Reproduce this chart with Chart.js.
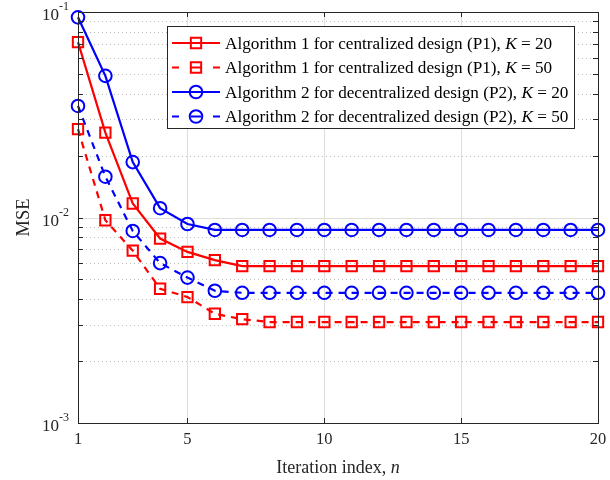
<!DOCTYPE html>
<html>
<head>
<meta charset="utf-8">
<script src="https://cdn.jsdelivr.net/npm/chart.js@4.4.1/dist/chart.umd.min.js"></script>
<style>
  html, body { margin: 0; padding: 0; background: #fff; }
  #wrap { width: 610px; height: 480px; }
</style>
</head>
<body>
<div id="wrap"><canvas id="mseChart" width="610" height="480"></canvas></div>
<script>
// Iteration index n
const iterations = [1, 2, 3, 4, 5, 6, 7, 8, 9, 10, 11, 12, 13, 14, 15, 16, 17, 18, 19, 20];

// MSE values
const alg1K20 = [0.0713, 0.0259, 0.0117, 0.0079, 0.0068, 0.0062, 0.0058, 0.0058, 0.0058, 0.0058,
                 0.0058, 0.0058, 0.0058, 0.0058, 0.0058, 0.0058, 0.0058, 0.0058, 0.0058, 0.0058];
const alg1K50 = [0.0269, 0.0097, 0.0069, 0.0045, 0.0041, 0.0034, 0.0032, 0.0031, 0.0031, 0.0031,
                 0.0031, 0.0031, 0.0031, 0.0031, 0.0031, 0.0031, 0.0031, 0.0031, 0.0031, 0.0031];
const alg2K20 = [0.0942, 0.0489, 0.0186, 0.0111, 0.0093, 0.0087, 0.0087, 0.0087, 0.0087, 0.0087,
                 0.0087, 0.0087, 0.0087, 0.0087, 0.0087, 0.0087, 0.0087, 0.0087, 0.0087, 0.0087];
const alg2K50 = [0.0349, 0.0158, 0.0086, 0.0060, 0.0051, 0.0044, 0.0043, 0.0043, 0.0043, 0.0043,
                 0.0043, 0.0043, 0.0043, 0.0043, 0.0043, 0.0043, 0.0043, 0.0043, 0.0043, 0.0043];

const seriesLabels = [
    'Algorithm 1 for centralized design (P1), ',
    'Algorithm 1 for centralized design (P1), ',
    'Algorithm 2 for decentralized design (P2), ',
    'Algorithm 2 for decentralized design (P2), '
];
const seriesK = ['20', '50', '20', '50'];

// Axis ticks
const xTicks = [1, 5, 10, 15, 20];
const yDecades = [1e-3, 1e-2, 1e-1];
const yDecadeLabels = ['-3', '-2', '-1'];

const SERIF = '"Liberation Serif", "Times New Roman", serif';
const AXIS_COLOR = '#262626';
const RED = '#ff0000';
const BLUE = '#0000ff';
const DASH = [7, 6];

function toPoints(values) {
    return values.map((v, i) => ({ x: iterations[i], y: v }));
}

function makeDataset(label, values, color, style, dashed) {
    return {
        label: label,
        data: toPoints(values),
        borderColor: color,
        backgroundColor: 'rgba(0,0,0,0)',
        borderWidth: 2.2,
        borderDash: dashed ? DASH : [],
        pointStyle: style,
        pointRadius: style === 'rect' ? 7.3 : 6.3,
        pointBorderWidth: 2,
        pointBorderColor: color,
        pointBackgroundColor: 'rgba(0,0,0,0)',
        tension: 0,
        clip: false
    };
}

// Grid drawn MATLAB style: solid major lines, dotted minor lines
const gridPlugin = {
    id: 'matlabGrid',
    beforeDatasetsDraw(chart) {
        const { ctx, chartArea: a, scales } = chart;
        const xs = scales.x, ys = scales.y;
        ctx.save();
        ctx.lineWidth = 1;
        // vertical major grid
        ctx.strokeStyle = '#dedede';
        xTicks.forEach(t => {
            const px = Math.round(xs.getPixelForValue(t)) + 0.5;
            ctx.beginPath(); ctx.moveTo(px, a.top); ctx.lineTo(px, a.bottom); ctx.stroke();
        });
        // horizontal major grid
        yDecades.forEach(d => {
            const py = Math.round(ys.getPixelForValue(d)) + 0.5;
            ctx.beginPath(); ctx.moveTo(a.left, py); ctx.lineTo(a.right, py); ctx.stroke();
        });
        // horizontal minor grid (dotted)
        ctx.strokeStyle = '#bdbdbd';
        ctx.setLineDash([1, 3]);
        yDecades.slice(0, -1).forEach(d => {
            for (let m = 2; m <= 9; m++) {
                const py = Math.round(ys.getPixelForValue(d * m)) + 0.5;
                ctx.beginPath(); ctx.moveTo(a.left, py); ctx.lineTo(a.right, py); ctx.stroke();
            }
        });
        ctx.restore();
    }
};

// Box, inward ticks, tick labels and axis titles
const axesPlugin = {
    id: 'matlabAxes',
    afterDatasetsDraw(chart) {
        const { ctx, chartArea: a, scales } = chart;
        const xs = scales.x, ys = scales.y;
        const tl = 5;
        ctx.save();
        ctx.strokeStyle = AXIS_COLOR;
        ctx.lineWidth = 1;
        ctx.strokeRect(Math.round(a.left) + 0.5, Math.round(a.top) + 0.5,
                       Math.round(a.right - a.left), Math.round(a.bottom - a.top));

        ctx.beginPath();
        xTicks.forEach(t => {
            const px = Math.round(xs.getPixelForValue(t)) + 0.5;
            ctx.moveTo(px, a.bottom); ctx.lineTo(px, a.bottom - tl);
            ctx.moveTo(px, a.top); ctx.lineTo(px, a.top + tl);
        });
        yDecades.forEach((d, i) => {
            const maxM = i === yDecades.length - 1 ? 1 : 9;
            for (let m = 1; m <= maxM; m++) {
                const py = Math.round(ys.getPixelForValue(d * m)) + 0.5;
                ctx.moveTo(a.left, py); ctx.lineTo(a.left + tl, py);
                ctx.moveTo(a.right, py); ctx.lineTo(a.right - tl, py);
            }
        });
        ctx.stroke();

        // x tick labels
        ctx.fillStyle = AXIS_COLOR;
        ctx.font = '16.5px ' + SERIF;
        ctx.textAlign = 'center';
        ctx.textBaseline = 'top';
        xTicks.forEach(t => {
            ctx.fillText(String(t), xs.getPixelForValue(t), a.bottom + 8);
        });

        // y tick labels as 10^k
        yDecades.forEach((d, i) => {
            const py = ys.getPixelForValue(d);
            ctx.font = '12px ' + SERIF;
            ctx.textAlign = 'right';
            ctx.textBaseline = 'alphabetic';
            const supW = ctx.measureText(yDecadeLabels[i]).width;
            const right = a.left - 9;
            ctx.fillText(yDecadeLabels[i], right, py - 2);
            ctx.font = '17px ' + SERIF;
            ctx.fillText('10', right - supW, py + 8);
        });

        // axis titles
        ctx.fillStyle = AXIS_COLOR;
        ctx.textAlign = 'left';
        ctx.textBaseline = 'alphabetic';
        const part1 = 'Iteration index, ';
        ctx.font = '18px ' + SERIF;
        const w1 = ctx.measureText(part1).width;
        ctx.font = 'italic 18px ' + SERIF;
        const w2 = ctx.measureText('n').width;
        const cx = (a.left + a.right) / 2;
        const sx = cx - (w1 + w2) / 2;
        ctx.font = '18px ' + SERIF;
        ctx.fillText(part1, sx, 473);
        ctx.font = 'italic 18px ' + SERIF;
        ctx.fillText('n', sx + w1, 473);

        ctx.save();
        ctx.translate(29, (a.top + a.bottom) / 2);
        ctx.rotate(-Math.PI / 2);
        ctx.font = '18.5px ' + SERIF;
        ctx.textAlign = 'center';
        ctx.fillText('MSE', 0, 0);
        ctx.restore();

        ctx.restore();
    }
};

// Legend with line + marker samples and italic K
const legendPlugin = {
    id: 'matlabLegend',
    afterDraw(chart) {
        const { ctx } = chart;
        const box = { x: 167.5, y: 26.5, w: 407, h: 102 };
        const rowY = [43, 67.5, 92, 116.5];
        ctx.save();
        ctx.fillStyle = '#ffffff';
        ctx.fillRect(box.x, box.y, box.w, box.h);
        ctx.strokeStyle = AXIS_COLOR;
        ctx.lineWidth = 1;
        ctx.strokeRect(box.x, box.y, box.w, box.h);

        chart.data.datasets.forEach((ds, i) => {
            const y = rowY[i];
            ctx.strokeStyle = ds.borderColor;
            ctx.lineWidth = ds.borderWidth;
            ctx.setLineDash([]);
            ctx.beginPath();
            if (ds.borderDash.length) {
                ctx.moveTo(172, y); ctx.lineTo(179, y);
                ctx.moveTo(213, y); ctx.lineTo(220, y);
                ctx.moveTo(191, y); ctx.lineTo(201, y);
            } else {
                ctx.moveTo(172, y); ctx.lineTo(220, y);
            }
            ctx.stroke();
            ctx.lineWidth = ds.pointBorderWidth;
            ctx.fillStyle = 'rgba(0,0,0,0)';
            Chart.helpers.drawPoint(ctx, {
                pointStyle: ds.pointStyle, rotation: 0,
                radius: ds.pointRadius, borderWidth: ds.pointBorderWidth
            }, 196, y);

            ctx.fillStyle = '#000000';
            ctx.textAlign = 'left';
            ctx.textBaseline = 'middle';
            ctx.font = '17.2px ' + SERIF;
            let tx = 225;
            ctx.fillText(seriesLabels[i], tx, y + 1);
            tx += ctx.measureText(seriesLabels[i]).width;
            ctx.font = 'italic 17.2px ' + SERIF;
            ctx.fillText('K', tx, y + 1);
            tx += ctx.measureText('K').width;
            ctx.font = '17.2px ' + SERIF;
            ctx.fillText(' = ' + seriesK[i], tx, y + 1);
        });
        ctx.restore();
    }
};

const ctx = document.getElementById('mseChart').getContext('2d');
new Chart(ctx, {
    type: 'line',
    data: {
        datasets: [
            makeDataset('Algorithm 1, K = 20', alg1K20, RED, 'rect', false),
            makeDataset('Algorithm 1, K = 50', alg1K50, RED, 'rect', true),
            makeDataset('Algorithm 2, K = 20', alg2K20, BLUE, 'circle', false),
            makeDataset('Algorithm 2, K = 50', alg2K50, BLUE, 'circle', true)
        ]
    },
    options: {
        responsive: false,
        animation: false,
        devicePixelRatio: 1,
        layout: { padding: { left: 78, right: 12, top: 12, bottom: 57 } },
        scales: {
            x: { type: 'linear', min: 1, max: 20, display: false },
            y: { type: 'logarithmic', min: 1e-3, max: 1e-1, display: false }
        },
        plugins: {
            legend: { display: false },
            tooltip: { enabled: false }
        }
    },
    plugins: [gridPlugin, axesPlugin, legendPlugin]
});
</script>
</body>
</html>
